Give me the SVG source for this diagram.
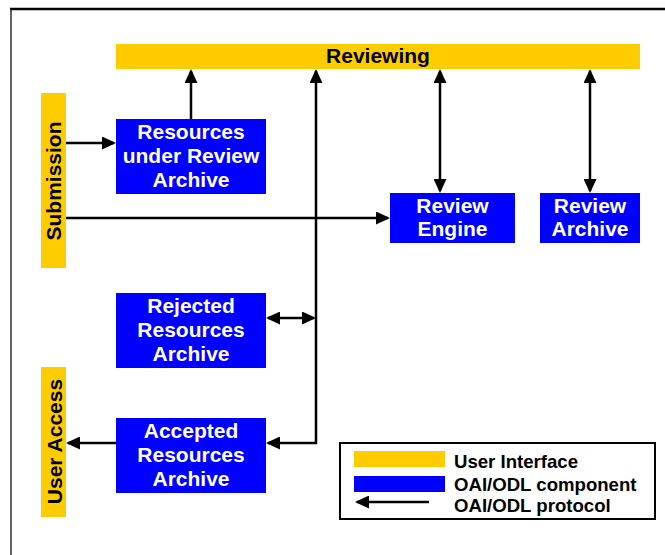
<svg xmlns="http://www.w3.org/2000/svg" width="665" height="555" viewBox="0 0 665 555">
  <style>
    .ui { fill: #FFCC00; }
    .comp { fill: #0000FF; }
    .lbl { font-family: "Liberation Sans", Arial, sans-serif; font-weight: bold; font-size: 21px; text-anchor: middle; }
    .w { fill: #FFFFFF; }
    .k { fill: #000000; }
    .conn { fill: none; stroke: #000; stroke-width: 2.5; }
    .leg { font-family: "Liberation Sans", Arial, sans-serif; font-weight: bold; font-size: 18.6px; fill: #000; }
  </style>
  <defs>
    <marker id="ah" viewBox="0 0 14 13" refX="12" refY="6.5" markerWidth="14" markerHeight="13" markerUnits="userSpaceOnUse" orient="auto-start-reverse">
      <path d="M0,0 L14,6.5 L0,13 z" fill="#000"/>
    </marker>
  </defs>

  <rect width="665" height="555" fill="#FFFFFF"/>
  <!-- outer frame -->
  <line x1="10" y1="9" x2="665" y2="9" stroke="#000" stroke-width="2.5"/>
  <line x1="11" y1="9" x2="11" y2="555" stroke="#222" stroke-width="1.4"/>

  <!-- user interface bars -->
  <g id="reviewing">
    <rect class="ui" x="116" y="44" width="524" height="25"/>
    <text class="lbl k" x="378" y="62.5">Reviewing</text>
  </g>
  <g id="submission">
    <rect class="ui" x="41" y="93" width="25" height="175"/>
    <text class="lbl k" transform="translate(61,181) rotate(-90)">Submission</text>
  </g>
  <g id="user-access">
    <rect class="ui" x="41" y="367" width="25" height="150"/>
    <text class="lbl k" transform="translate(61.5,441.5) rotate(-90)">User Access</text>
  </g>

  <!-- OAI/ODL components -->
  <g id="under-review-archive">
    <rect class="comp" x="116" y="119" width="150" height="75"/>
    <text class="lbl w" x="191" y="138.5">Resources</text>
    <text class="lbl w" x="191" y="162.5">under Review</text>
    <text class="lbl w" x="191" y="187">Archive</text>
  </g>
  <g id="review-engine">
    <rect class="comp" x="390" y="193" width="125" height="50"/>
    <text class="lbl w" x="452.5" y="212.5">Review</text>
    <text class="lbl w" x="452.5" y="236">Engine</text>
  </g>
  <g id="review-archive">
    <rect class="comp" x="540" y="193" width="100" height="50"/>
    <text class="lbl w" x="590" y="212.5">Review</text>
    <text class="lbl w" x="590" y="236">Archive</text>
  </g>
  <g id="rejected-archive">
    <rect class="comp" x="116" y="293" width="150" height="75"/>
    <text class="lbl w" x="191" y="312.5">Rejected</text>
    <text class="lbl w" x="191" y="336.5">Resources</text>
    <text class="lbl w" x="191" y="361">Archive</text>
  </g>
  <g id="accepted-archive">
    <rect class="comp" x="116" y="418" width="150" height="75"/>
    <text class="lbl w" x="191" y="437.5">Accepted</text>
    <text class="lbl w" x="191" y="461.5">Resources</text>
    <text class="lbl w" x="191" y="486">Archive</text>
  </g>

  <!-- protocol connectors -->
  <g id="connectors">
    <path class="conn" d="M66,143 H114" marker-end="url(#ah)"/>
    <path class="conn" d="M191,119 V71" marker-end="url(#ah)"/>
    <path class="conn" d="M66,218 H388" marker-end="url(#ah)"/>
    <path class="conn" d="M316,71 V443 H268" marker-start="url(#ah)" marker-end="url(#ah)"/>
    <path class="conn" d="M268,318 H314" marker-start="url(#ah)" marker-end="url(#ah)"/>
    <path class="conn" d="M440,71 V191" marker-start="url(#ah)" marker-end="url(#ah)"/>
    <path class="conn" d="M590,71 V191" marker-start="url(#ah)" marker-end="url(#ah)"/>
    <path class="conn" d="M116,443 H68" marker-end="url(#ah)"/>
  </g>

  <!-- legend -->
  <g id="legend">
    <rect x="340" y="443" width="315" height="76" fill="#FFFFFF" stroke="#000" stroke-width="2"/>
    <rect class="ui" x="354" y="451" width="91" height="16"/>
    <rect class="comp" x="354" y="476" width="91" height="16"/>
    <path class="conn" d="M429,502 H357" marker-end="url(#ah)"/>
    <text class="leg" x="454" y="468">User Interface</text>
    <text class="leg" x="454" y="491">OAI/ODL component</text>
    <text class="leg" x="454" y="512">OAI/ODL protocol</text>
  </g>
</svg>
